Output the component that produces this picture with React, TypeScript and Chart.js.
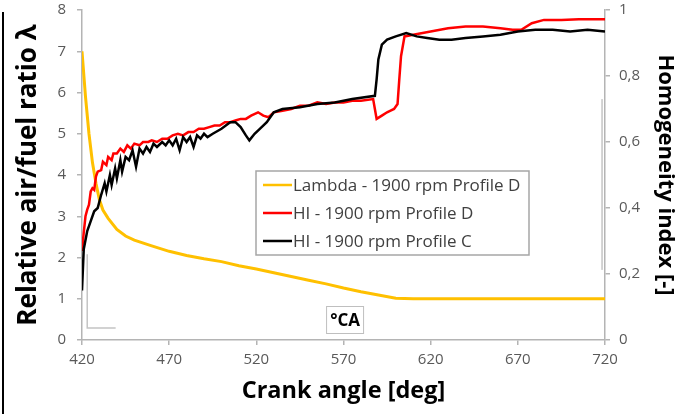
import React, { useEffect, useRef } from "react";
import { Chart, registerables } from "chart.js";

Chart.register(...registerables);

// Relative air/fuel ratio (lambda), 1900 rpm, profile D
const lambdaAngles = [420, 422, 424, 426, 428, 430, 432, 435, 440, 445, 450, 460, 470, 480, 490, 500, 510, 520, 530, 540, 550, 560, 570, 580, 590, 600, 610, 640, 680, 720];
const lambdaValues = [7.0, 5.9, 5.0, 4.3, 3.8, 3.4, 3.15, 2.95, 2.68, 2.52, 2.42, 2.28, 2.15, 2.05, 1.97, 1.9, 1.8, 1.72, 1.63, 1.54, 1.45, 1.36, 1.26, 1.17, 1.09, 1.01, 1.0, 1.0, 1.0, 1.0];

// Homogeneity index, 1900 rpm, profile D
const hiDAngles = [420, 421, 422, 423, 424, 425, 426, 427, 428, 429, 431, 432, 434, 435, 437, 438, 440, 442, 444, 446, 448, 450, 453, 455, 458, 460, 463, 466, 469, 472, 475, 478, 481, 484, 487, 490, 493, 496, 499, 502, 505, 508, 511, 514, 517, 521, 524, 527, 530, 535, 540, 545, 550, 555, 560, 565, 570, 575, 580, 587, 588, 589, 592, 595, 597, 599, 601, 602, 603, 605, 610, 620, 630, 640, 650, 660, 667, 672, 678, 685, 695, 705, 720];
const hiDValues = [0.27, 0.325, 0.375, 0.395, 0.41, 0.45, 0.46, 0.455, 0.495, 0.51, 0.515, 0.54, 0.53, 0.555, 0.545, 0.565, 0.565, 0.58, 0.57, 0.59, 0.58, 0.595, 0.59, 0.6, 0.6, 0.605, 0.6, 0.61, 0.61, 0.62, 0.625, 0.62, 0.63, 0.63, 0.64, 0.64, 0.645, 0.65, 0.65, 0.66, 0.66, 0.665, 0.67, 0.67, 0.68, 0.69, 0.68, 0.675, 0.69, 0.695, 0.7, 0.71, 0.71, 0.72, 0.715, 0.72, 0.72, 0.725, 0.725, 0.73, 0.7, 0.67, 0.68, 0.69, 0.695, 0.7, 0.715, 0.79, 0.86, 0.92, 0.925, 0.935, 0.945, 0.95, 0.95, 0.945, 0.94, 0.94, 0.96, 0.97, 0.97, 0.972, 0.972];

// Homogeneity index, 1900 rpm, profile C
const hiCAngles = [420, 421, 423, 425, 427, 429, 431, 433, 434, 436, 437, 439, 440, 442, 443, 445, 447, 449, 451, 453, 455, 457, 459, 461, 463, 466, 468, 470, 472, 474, 476, 478, 480, 482, 484, 486, 488, 490, 492, 495, 500, 505, 508, 511, 514, 516, 519, 522, 526, 530, 535, 545, 555, 565, 575, 588, 589, 590, 592, 595, 600, 606, 612, 618, 625, 632, 640, 650, 660, 670, 680, 690, 700, 710, 720];
const hiCValues = [0.15, 0.275, 0.33, 0.36, 0.39, 0.4, 0.44, 0.475, 0.45, 0.5, 0.47, 0.52, 0.49, 0.545, 0.51, 0.555, 0.545, 0.575, 0.525, 0.58, 0.565, 0.585, 0.57, 0.595, 0.585, 0.6, 0.59, 0.605, 0.59, 0.61, 0.575, 0.615, 0.6, 0.615, 0.585, 0.62, 0.61, 0.625, 0.615, 0.625, 0.64, 0.66, 0.66, 0.645, 0.62, 0.605, 0.625, 0.64, 0.66, 0.69, 0.7, 0.705, 0.715, 0.72, 0.73, 0.74, 0.79, 0.85, 0.895, 0.91, 0.92, 0.93, 0.92, 0.915, 0.91, 0.91, 0.915, 0.92, 0.925, 0.935, 0.94, 0.94, 0.935, 0.94, 0.935];

// Axis ranges and tick steps
const angleRange = [420, 720];
const angleStep = 50;
const lambdaRange = [0, 8];
const lambdaStep = 1;
const hiRange = [0, 1];
const hiStep = 0.2;

const seriesLabels = [
  "Lambda - 1900 rpm Profile D",
  "HI - 1900 rpm Profile D",
  "HI - 1900 rpm Profile C",
];
const seriesColors = ["#FFC000", "#FF0000", "#000000"];

const xTitle = "Crank angle [deg]";
const yLeftTitle = "Relative air/fuel ratio \u03bb";
const yRightTitle = "Homogeneity index [-]";
const unitNote = "\u00b0CA";

const toPoints = (xs: number[], ys: number[]) => xs.map((x, i) => ({ x, y: ys[i] }));

const FAMILY = "'Open Sans', sans-serif";
const TICK_FONT = { family: FAMILY, size: 15 };
const AXIS_GREY = "#b4b4b4";
const TEXT_GREY = "#595959";

// Extra drawing: frame line, bracket marks, unit note and the boxed legend
const decorPlugin = {
  id: "decor",
  afterDatasetsDraw(chart: any) {
    const { ctx, scales } = chart;
    const x = scales.x;
    const y = scales.y;
    ctx.save();

    // frame line along the left edge
    ctx.strokeStyle = "#000";
    ctx.lineWidth = 2;
    ctx.beginPath();
    ctx.moveTo(3, 12);
    ctx.lineTo(3, chart.height);
    ctx.stroke();

    // bracket near the start of the angle range
    ctx.strokeStyle = "#c4c4c4";
    ctx.lineWidth = 1.5;
    ctx.beginPath();
    ctx.moveTo(x.getPixelForValue(423), y.getPixelForValue(2.08));
    ctx.lineTo(x.getPixelForValue(423), y.getPixelForValue(0.29));
    ctx.lineTo(x.getPixelForValue(439.3), y.getPixelForValue(0.29));
    ctx.stroke();

    // thin vertical mark near the end of the angle range
    ctx.strokeStyle = "#a8a8a8";
    ctx.lineWidth = 1;
    ctx.beginPath();
    ctx.moveTo(x.getPixelForValue(718.3), y.getPixelForValue(5.84));
    ctx.lineTo(x.getPixelForValue(718.3), y.getPixelForValue(1.7));
    ctx.stroke();

    // boxed unit note
    const cx = x.getPixelForValue(570.9);
    const cy = y.getPixelForValue(0.485);
    ctx.fillStyle = "#fff";
    ctx.fillRect(cx - 19, cy - 14, 38, 28);
    ctx.strokeStyle = "#bfbfbf";
    ctx.lineWidth = 1;
    ctx.strokeRect(cx - 19 + 0.5, cy - 14 + 0.5, 37, 27);
    ctx.fillStyle = "#000";
    ctx.font = `bold 17px ${FAMILY}`;
    ctx.textAlign = "center";
    ctx.textBaseline = "middle";
    ctx.fillText(unitNote, cx, cy + 1);

    // legend box
    const lx = 256, ly = 171, lw = 273, lh = 84;
    ctx.fillStyle = "#fff";
    ctx.fillRect(lx, ly, lw, lh);
    ctx.strokeStyle = "#a6a6a6";
    ctx.lineWidth = 1.5;
    ctx.strokeRect(lx, ly, lw, lh);
    ctx.font = `17px ${FAMILY}`;
    ctx.textAlign = "left";
    ctx.textBaseline = "middle";
    chart.data.datasets.forEach((ds: any, i: number) => {
      const rowY = ly + 14 + i * 28;
      ctx.strokeStyle = ds.borderColor;
      ctx.lineWidth = 2.5;
      ctx.beginPath();
      ctx.moveTo(lx + 7, rowY);
      ctx.lineTo(lx + 36, rowY);
      ctx.stroke();
      ctx.fillStyle = "#404040";
      ctx.fillText(ds.label, lx + 37, rowY + 1);
    });

    ctx.restore();
  },
};

export default function App() {
  const canvasRef = useRef<HTMLCanvasElement | null>(null);

  useEffect(() => {
    if (!canvasRef.current) return;
    const chart = new Chart(canvasRef.current, {
      type: "line",
      data: {
        datasets: [
          {
            label: seriesLabels[0],
            data: toPoints(lambdaAngles, lambdaValues),
            borderColor: seriesColors[0],
            borderWidth: 3,
            pointRadius: 0,
            yAxisID: "y",
            order: 3,
          },
          {
            label: seriesLabels[1],
            data: toPoints(hiDAngles, hiDValues),
            borderColor: seriesColors[1],
            borderWidth: 2.5,
            pointRadius: 0,
            yAxisID: "y1",
            order: 2,
          },
          {
            label: seriesLabels[2],
            data: toPoints(hiCAngles, hiCValues),
            borderColor: seriesColors[2],
            borderWidth: 2.5,
            pointRadius: 0,
            yAxisID: "y1",
            order: 1,
          },
        ],
      },
      options: {
        responsive: false,
        animation: false,
        devicePixelRatio: 1,
        layout: { padding: { top: 10, left: 0, right: 0, bottom: 0 } },
        plugins: {
          legend: { display: false },
          tooltip: { enabled: false },
        },
        elements: { line: { tension: 0 } },
        scales: {
          x: {
            type: "linear",
            min: angleRange[0],
            max: angleRange[1],
            ticks: { stepSize: angleStep, font: TICK_FONT, color: TEXT_GREY, padding: 6, maxRotation: 0 },
            grid: { drawOnChartArea: false, drawTicks: true, tickLength: 5, color: AXIS_GREY, lineWidth: 1.5 },
            border: { display: true, color: AXIS_GREY, width: 1.5 },
            title: {
              display: true,
              text: xTitle,
              font: { family: FAMILY, size: 23.5, weight: "bold" },
              color: "#000",
              padding: { top: 0, bottom: 9 },
            },
            afterFit(scale: any) {
              scale.height = 74;
              scale.paddingLeft = 0;
              scale.paddingRight = 0;
            },
          },
          y: {
            type: "linear",
            position: "left",
            min: lambdaRange[0],
            max: lambdaRange[1],
            ticks: { stepSize: lambdaStep, font: TICK_FONT, color: TEXT_GREY, padding: 11 },
            grid: { drawOnChartArea: false, drawTicks: true, tickLength: 5, color: AXIS_GREY, lineWidth: 1.5 },
            border: { display: true, color: AXIS_GREY, width: 1.5 },
            title: {
              display: true,
              text: yLeftTitle,
              font: { family: FAMILY, size: 26, weight: "bold" },
              color: "#000",
              padding: { top: 13, bottom: 0 },
            },
            afterFit(scale: any) {
              scale.width = 82;
              scale.paddingTop = 0;
              scale.paddingBottom = 0;
            },
          },
          y1: {
            type: "linear",
            position: "right",
            min: hiRange[0],
            max: hiRange[1],
            ticks: {
              stepSize: hiStep,
              font: TICK_FONT,
              color: TEXT_GREY,
              padding: 9,
              callback: (v: any) => {
                const n = Math.round(Number(v) * 10) / 10;
                return String(n).replace(".", ",");
              },
            },
            grid: { drawOnChartArea: false, drawTicks: true, tickLength: 5, color: AXIS_GREY, lineWidth: 1.5 },
            border: { display: true, color: AXIS_GREY, width: 1.5 },
            title: {
              display: true,
              text: yRightTitle,
              font: { family: FAMILY, size: 22, weight: "bold" },
              color: "#000",
              padding: { top: 11, bottom: 0 },
            },
            afterFit(scale: any) {
              scale.width = 84;
              scale.paddingTop = 0;
              scale.paddingBottom = 0;
            },
          },
        },
      },
      plugins: [decorPlugin],
    });
    return () => chart.destroy();
  }, []);

  return (
    <div style={{ position: "absolute", left: 0, top: 0, width: 689, height: 414, background: "#fff" }}>
      <canvas ref={canvasRef} width={689} height={414} style={{ display: "block" }} />
    </div>
  );
}
